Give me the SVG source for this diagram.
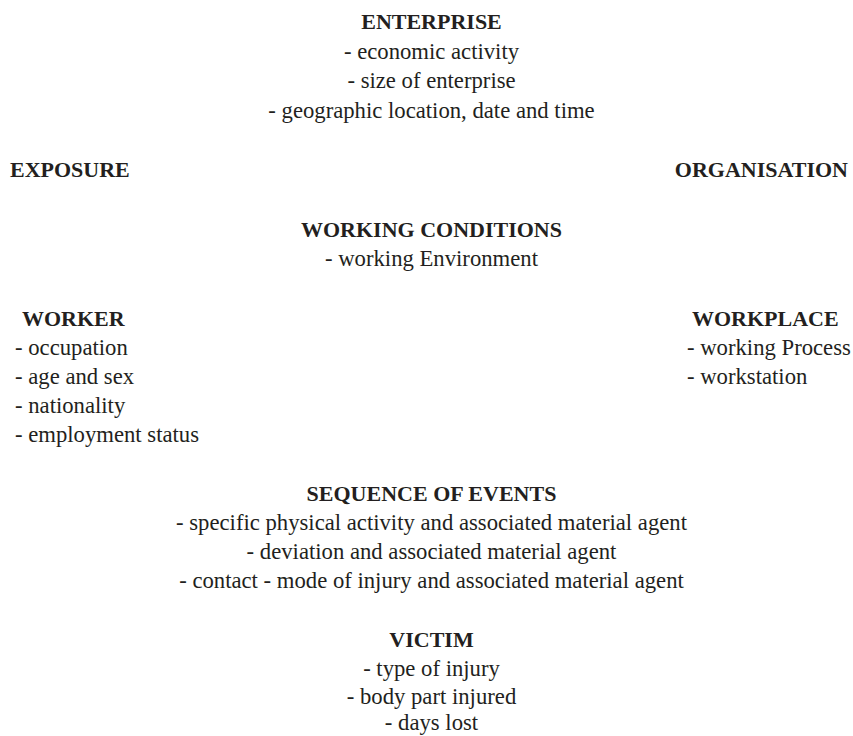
<svg xmlns="http://www.w3.org/2000/svg" width="853" height="736" viewBox="0 0 853 736">
<style>
text{font-family:"Liberation Serif","DejaVu Serif",serif;font-size:22.7px;fill:#231f20}
.h{font-weight:bold;font-size:22px}
.c{text-anchor:middle}
</style>
<rect width="853" height="736" fill="#fff"/>
<g id="enterprise" class="c">
<text class="h c" x="431.5" y="29">ENTERPRISE</text>
<text class="c" x="431.5" y="59">- economic activity</text>
<text class="c" x="431.5" y="88">- size of enterprise</text>
<text class="c" x="431.5" y="118">- geographic location, date and time</text>
</g>
<g id="exposure"><text class="h" x="10" y="177">EXPOSURE</text></g>
<g id="organisation"><text class="h" x="848" y="177" text-anchor="end">ORGANISATION</text></g>
<g id="working-conditions">
<text class="h c" x="431.5" y="237">WORKING CONDITIONS</text>
<text class="c" x="431.5" y="266">- working Environment</text>
</g>
<g id="worker">
<text class="h" x="22" y="326">WORKER</text>
<text x="15" y="355">- occupation</text>
<text x="15" y="384">- age and sex</text>
<text x="15" y="413">- nationality</text>
<text x="15" y="442">- employment status</text>
</g>
<g id="workplace">
<text class="h" x="692" y="326">WORKPLACE</text>
<text x="687" y="355">- working Process</text>
<text x="687" y="384">- workstation</text>
</g>
<g id="sequence">
<text class="h c" x="431.5" y="501">SEQUENCE OF EVENTS</text>
<text class="c" x="431.5" y="530">- specific physical activity and associated material agent</text>
<text class="c" x="431.5" y="559">- deviation and associated material agent</text>
<text class="c" x="431.5" y="588">- contact - mode of injury and associated material agent</text>
</g>
<g id="victim">
<text class="h c" x="431.5" y="647">VICTIM</text>
<text class="c" x="431.5" y="676">- type of injury</text>
<text class="c" x="431.5" y="704">- body part injured</text>
<text class="c" x="431.5" y="730">- days lost</text>
</g>
<g id="connectors"></g>
</svg>
